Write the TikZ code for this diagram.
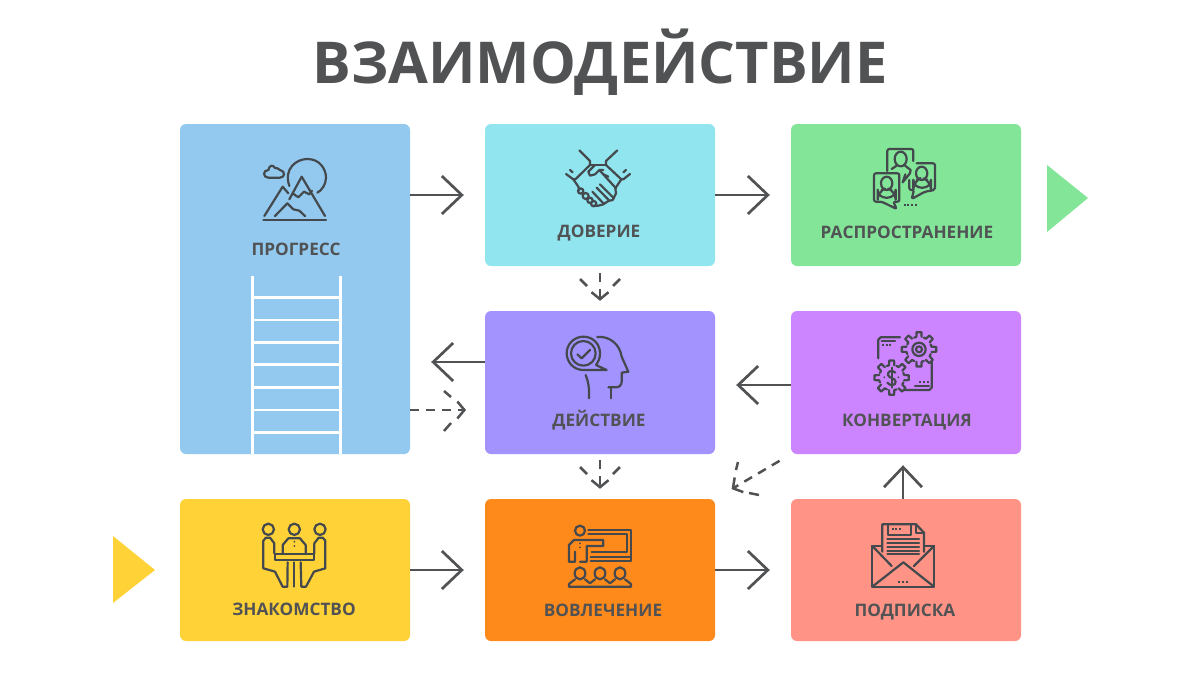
\documentclass[tikz,border=0pt]{standalone}
\usepackage{fontspec}
\setmainfont{Open Sans}
\usetikzlibrary{arrows.meta}
\definecolor{tekst}{HTML}{505254}
\definecolor{ikona}{HTML}{44494D}
\definecolor{progresscol}{HTML}{93C9EF}
\definecolor{doveriecol}{HTML}{91E5EF}
\definecolor{rasprcol}{HTML}{83E598}
\definecolor{deistviecol}{HTML}{A393FF}
\definecolor{konvcol}{HTML}{CD85FF}
\definecolor{znakcol}{HTML}{FFD338}
\definecolor{vovlcol}{HTML}{FF8A1C}
\definecolor{podpcol}{HTML}{FF9486}
\tikzset{
    blok/.style={fill=#1,rounded corners=6pt,inner sep=0pt,minimum width=230pt,minimum height=142pt},
    podpis/.style={text=tekst,anchor=base,inner sep=0pt,font=\bfseries\fontsize{17.2}{20}\selectfont},
    strelka/.style={line width=2.7pt,draw=tekst,-{Straight Barb[length=20pt,width=38pt]},shorten >=21pt},
    punktir/.style={line width=2.5pt,draw=tekst,dash pattern=on 9pt off 7pt,-{Straight Barb[length=7pt,width=17pt]}},
    sboku/.style={line width=2.5pt,draw=tekst},
    lestnica/.style={white,line width=2.6pt},
    tochki/.style={line cap=butt,dash pattern=on 2pt off 1.7pt},
    ikonka/.style 2 args={shift={(#1,#2)},x=0.3333pt,y=-0.3333pt,line width=2.2pt,draw=ikona,line cap=round,line join=round}
}
\newcommand{\shesternya}[2]{%
    \foreach \a in {0,45,...,315}
        \draw ({#1+38*cos(\a-23)},{#2+38*sin(\a-23)}) -- ({#1+38*cos(\a-12)},{#2+38*sin(\a-12)})
            -- ({#1+52*cos(\a-8)},{#2+52*sin(\a-8)}) -- ({#1+52*cos(\a+8)},{#2+52*sin(\a+8)})
            -- ({#1+38*cos(\a+12)},{#2+38*sin(\a+12)});
}
\begin{document}
\begin{tikzpicture}[x=1pt,y=-1pt]
    \useasboundingbox (0,0) rectangle (1200,675);

    \node[text=tekst,anchor=base,inner sep=0pt,font=\bfseries\fontsize{57.7}{66}\selectfont] (zagolovok) at (600,83.5) {ВЗАИМОДЕЙСТВИЕ};

    % bloki
    \node[blok=progresscol,minimum height=330pt] (progress) at (295,289) {};
    \node[blok=doveriecol] (doverie) at (600,195) {};
    \node[blok=rasprcol] (rasprostranenie) at (906,195) {};
    \node[blok=deistviecol,minimum height=143pt] (deistvie) at (600,382.5) {};
    \node[blok=konvcol,minimum height=143pt] (konvertaciya) at (906,382.5) {};
    \node[blok=znakcol] (znakomstvo) at (295,570) {};
    \node[blok=vovlcol] (vovlechenie) at (600,570) {};
    \node[blok=podpcol] (podpiska) at (906,570) {};

    \fill[rasprcol] (1047,165) -- (1088,198) -- (1047,232) -- cycle;
    \fill[znakcol] (113,536) -- (155,570) -- (113,603) -- cycle;

    % lestnica
    \draw[lestnica] (252.7,276) -- (252.7,454) (340.5,276) -- (340.5,454);
    \foreach \y in {297.5,320,342.5,364.5,387.5,410,432.5}
        \draw[lestnica] (252.7,\y) -- (340.5,\y);

    \node[podpis] (lprogress) at (296,255) {ПРОГРЕСС};
    \node[podpis] (ldoverie) at (599,237) {ДОВЕРИЕ};
    \node[podpis] (lraspr) at (907,238) {РАСПРОСТРАНЕНИЕ};
    \node[podpis] (ldeistvie) at (599,426) {ДЕЙСТВИЕ};
    \node[podpis] (lkonv) at (907,426) {КОНВЕРТАЦИЯ};
    \node[podpis] (lznak) at (294,615) {ЗНАКОМСТВО};
    \node[podpis] (lvovl) at (603,616) {ВОВЛЕЧЕНИЕ};
    \node[podpis] (lpodp) at (905,616) {ПОДПИСКА};

    % strelki
    \coordinate (vhod) at (485,410);
    \coordinate (vyhod) at (485,362);
    \coordinate (vlevo) at (791,385);
    \coordinate (verh) at (903,499);
    \draw[strelka] (progress.east |- doverie.west) -- (doverie.west);
    \draw[strelka] (doverie.east) -- (rasprostranenie.west);
    \draw[strelka] (vyhod) -- (progress.east |- vyhod);
    \draw[strelka] (vlevo) -- (deistvie.east |- vlevo);
    \draw[strelka] (znakomstvo.east) -- (vovlechenie.west);
    \draw[strelka] (vovlechenie.east) -- (podpiska.west);
    \draw[strelka,shorten >=11pt] (verh) -- (verh |- konvertaciya.south);

    \draw[punktir,shorten <=7pt,shorten >=10pt] (doverie.south) -- (deistvie.north);
    \draw[sboku] (580,279) -- (587,286) (620,279) -- (613,286);
    \draw[punktir,shorten <=6pt,shorten >=10pt] (deistvie.south) -- (vovlechenie.north);
    \draw[sboku] (580,467) -- (587,474) (620,467) -- (613,474);
    \draw[punktir,shorten >=19pt] (progress.east |- vhod) -- (vhod);
    \draw[sboku] (444,391) -- (451,397) (444,431) -- (451,423);
    \draw[punktir,shorten <=13pt,shorten >=19pt] (konvertaciya.south west) -- (vovlechenie.north east);
    \draw[sboku] (738,462) -- (736,470) (749,493) -- (759,495);

    % gory
    \begin{scope}[ikonka={230}{140}]
        \draw (100,240) -- (288,240);
        \draw (103,228) -- (158,140) -- (175,160);
        \draw (178,178) -- (215,110) -- (285,228);
        \draw (188,160) -- (205,172) -- (222,155) -- (238,163) -- (246,152);
        \draw (135,228) -- (172,190) -- (190,208) -- (208,212) -- (225,228);
        \draw (178,138) .. controls (160,85) and (200,57) .. (232,57)
            .. controls (270,57) and (288,88) .. (288,113) .. controls (288,133) and (275,152) .. (262,158);
        \draw (115,113) -- (150,113) .. controls (166,113) and (166,92) .. (150,90)
            .. controls (145,84) and (138,84) .. (135,84) .. controls (130,74) and (118,74) .. (115,90)
            .. controls (98,90) and (98,113) .. (115,113);
    \end{scope}

    % rukopozhatie
    \begin{scope}[ikonka={540}{135}]
        \draw (118,46) -- (150,78) -- (150,90) -- (106,133) -- (100,133) -- (78,117);
        \draw (232,46) -- (198,78) -- (198,90) -- (244,133) -- (250,133) -- (270,117);
        \draw (90,105) -- (98,112) (258,105) -- (250,112);
        \draw (150,90) -- (198,90);
        \draw (100,133) -- (115,155) -- (118,165);
        \draw (244,133) -- (226,160) -- (228,175) -- (218,195) -- (205,198) -- (190,208) -- (175,212) -- (160,212);
        \draw (165,90) -- (145,110) -- (150,122) -- (165,118) -- (178,105) -- (228,160);
        \draw (180,105) -- (190,105) (190,118) -- (205,125);
        \draw (180,148) -- (222,190) (170,158) -- (208,197) (157,170) -- (192,207);
        \draw (122,168) circle[radius=8] (137,183) circle[radius=9] (150,196) circle[radius=8] (161,206) circle[radius=8];
    \end{scope}

    % soobshcheniya
    \begin{scope}[ikonka={850}{135}]
        \draw[rounded corners=2pt] (112,108) -- (112,42) -- (190,42) -- (190,78);
        \draw (180,115) -- (158,142) -- (166,118);
        \draw (152,72) ellipse[x radius=18,y radius=22];
        \draw (125,102) -- (140,92) (165,92) -- (182,105) -- (180,115);
        \draw[rounded corners=2pt] (200,85) -- (255,85) -- (255,165) -- (225,170) -- (185,192) -- (192,165) -- (178,165) -- (178,135);
        \draw (215,115) ellipse[x radius=17,y radius=20];
        \draw[rounded corners=8pt] (200,135) -- (190,140) -- (190,158) -- (243,158) -- (243,140) -- (232,135);
        \draw[rounded corners=2pt] (72,115) -- (148,115) -- (148,200) -- (130,200) -- (140,222) -- (95,200) -- (72,200) -- cycle;
        \draw (110,145) ellipse[x radius=17,y radius=20];
        \draw[rounded corners=8pt] (95,165) -- (83,170) -- (83,188) -- (137,188) -- (137,170) -- (125,165);
        \draw[tochki] (161,210) -- (203,210);
    \end{scope}

    % golova
    \begin{scope}[ikonka={540}{325}]
        \draw (130,85) circle[radius=37];
        \draw (168,120) -- (200,135) -- (130,135) .. controls (100,135) and (80,110) .. (80,85)
            .. controls (80,55) and (105,35) .. (130,35) .. controls (160,35) and (180,58) .. (180,85)
            .. controls (180,100) and (175,110) .. (168,120);
        \draw (112,88) -- (125,100) -- (150,75);
        \draw (172,36) .. controls (210,32) and (240,60) .. (245,95) -- (265,140) -- (245,143) -- (245,170)
            .. controls (245,180) and (238,187) .. (228,187) -- (205,187);
        \draw (212,187) -- (212,220);
        \draw (137,150) .. controls (145,170) and (148,185) .. (147,220);
    \end{scope}

    % shesterni
    \begin{scope}[ikonka={850}{325}]
        \draw (150,37) -- (92,37) -- (85,44) -- (85,100);
        \draw (245,110) -- (245,188) -- (238,195) -- (162,195);
        \draw (95,47) -- (135,47) (195,183) -- (237,183);
        \draw[tochki] (96,60) -- (124,60) (208,172) -- (238,172);
        \shesternya{207}{73}
        \shesternya{125}{158}
        \draw (207,73) circle[radius=20] (207,73) circle[radius=9];
        \draw (136,143) .. controls (125,132) and (112,140) .. (114,150) .. controls (116,160) and (136,158) .. (137,170)
            .. controls (138,182) and (120,184) .. (112,173);
        \draw (125,128) -- (125,188);
        \fill[ikona] (103,157) circle[radius=3] (145,157) circle[radius=3];
    \end{scope}

    % vstrecha
    \begin{scope}[ikonka={240}{510}]
        \draw (85,58) circle[radius=17] (163,58) circle[radius=17] (240,58) circle[radius=17];
        \draw (103,130) -- (103,100) -- (90,83) -- (78,83) -- (70,92) -- (70,175) -- (105,185) -- (128,230) -- (142,230) -- (143,157);
        \draw (223,130) -- (223,100) -- (236,83) -- (248,83) -- (256,92) -- (256,175) -- (222,185) -- (198,230) -- (184,230) -- (182,157);
        \draw (128,130) -- (128,105) -- (145,85) -- (180,85) -- (197,105) -- (197,130);
        \draw (105,133) rectangle (222,150);
        \draw (163,157) -- (163,230);
        \fill[ikona] (163,95) circle[radius=3] (163,108) circle[radius=3];
    \end{scope}

    % prezentaciya
    \begin{scope}[ikonka={550}{510}]
        \draw (90,62) circle[radius=15];
        \draw (75,125) -- (75,155) -- (57,155) -- (57,105) -- (72,90) -- (160,90) -- (160,108) -- (110,108) -- (110,155) -- (90,155);
        \fill[ikona] (90,100) circle[radius=3] (90,112) circle[radius=3];
        \draw (115,60) -- (242,60) -- (242,152) -- (122,152);
        \draw (115,72) -- (230,72) -- (230,127) -- (125,127);
        \draw (122,140) -- (242,140);
        \foreach \x in {90,150,210}
            \draw (\x,190) ellipse[x radius=16,y radius=18];
        \draw (57,230) -- (243,230) -- (243,222) -- (225,208) (195,208) -- (180,220) -- (165,208) (135,208) -- (120,220) -- (105,208) (75,208) -- (57,222) -- (57,230);
    \end{scope}

    % konvert
    \begin{scope}[ikonka={850}{510}]
        \draw (95,108) -- (67,108) -- (67,230) -- (252,230) -- (252,108) -- (222,108);
        \draw (67,108) -- (125,168) (252,108) -- (192,168);
        \draw (67,230) -- (160,157) -- (252,230);
        \draw[tochki] (145,216) -- (173,216) (125,57) -- (153,57);
        \draw (97,125) -- (97,43) -- (198,43) -- (222,68) -- (222,125);
        \draw (198,43) -- (198,68) -- (222,68);
        \draw (115,43) -- (115,75) -- (182,75) -- (182,43);
        \foreach \y in {88,100,112,122,133}
            \draw (112,\y) -- (207,\y);
    \end{scope}
\end{tikzpicture}
\end{document}
